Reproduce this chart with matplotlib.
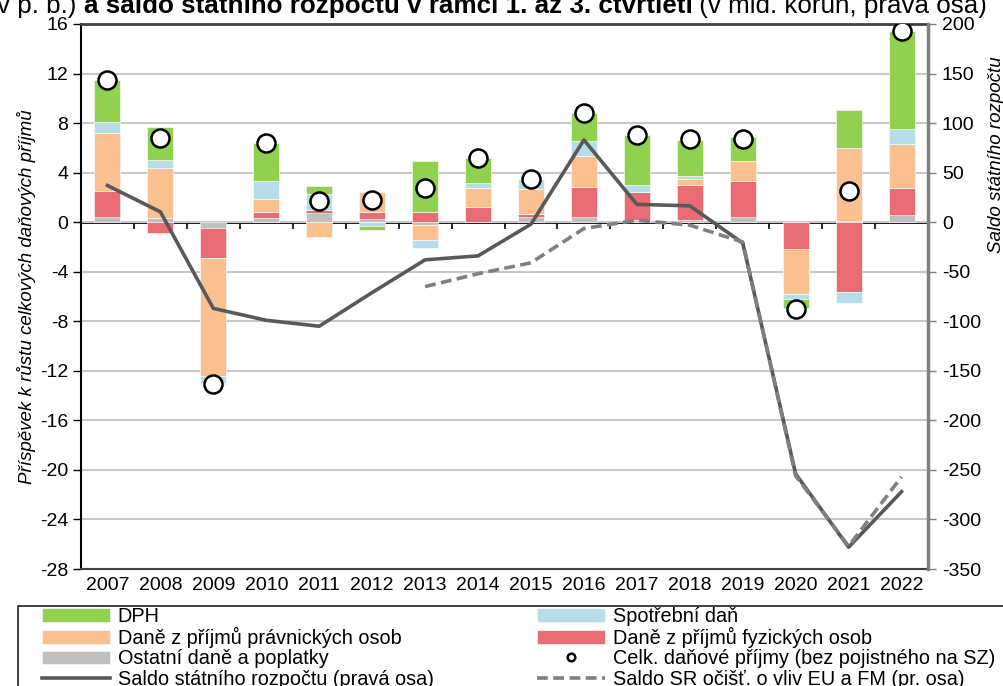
import matplotlib.pyplot as plt
from matplotlib.patches import Rectangle
import numpy as np

plt.rcParams['font.family'] = ['Liberation Sans', 'DejaVu Sans']
plt.rcParams['axes.unicode_minus'] = False

years = ['2007', '2008', '2009', '2010', '2011', '2012', '2013', '2014',
         '2015', '2016', '2017', '2018', '2019', '2020', '2021', '2022']

# prispevky k rustu danovych prijmu (p. b.)
ostatni = [0.4, 0.3, -0.5, 0.3, 0.75, 0.25, -0.2, 0.0, 0.4, 0.45, 0.2, 0.2, 0.45, 0.0, 0.1, 0.55]
dpfo = [2.1, -0.85, -2.4, 0.5, 0.25, 0.55, 0.8, 1.2, 0.25, 2.4, 2.25, 2.8, 2.85, -2.2, -5.6, 2.25]
dppo = [4.7, 4.1, -9.5, 1.1, -1.2, 1.6, -1.2, 1.55, 2.0, 2.5, 0.0, 0.45, 1.6, -3.6, 5.9, 3.5]
spotrebni = [0.9, 0.6, -0.6, 1.4, 1.25, -0.3, -0.7, 0.4, 0.85, 1.2, 0.55, 0.25, 0.0, -0.4, -0.9, 1.2]
dph = [3.4, 2.65, -0.1, 3.1, 0.65, -0.3, 4.1, 2.05, 0.0, 2.3, 4.0, 2.9, 1.95, -0.7, 3.05, 7.9]
celkem = [11.5, 6.8, -13.1, 6.4, 1.75, 1.8, 2.8, 5.2, 3.5, 8.85, 7.0, 6.7, 6.75, -7.0, 2.55, 15.4]

# saldo (mld. Kc, prava osa)
saldo = [37, 10.4, -87, -99, -105, -71, -38, -34, -2, 83, 18, 16.5, -21, -254, -328, -272]
saldo_ocist = [np.nan] * 6 + [-65, -52, -41, -6.4, 2, -3, -20, -256, -327, -257]

series = [
    (ostatni, '#BFBFBF', 'Ostatní daně a poplatky'),
    (dpfo, '#E96B74', 'Daně z příjmů fyzických osob'),
    (dppo, '#FAC090', 'Daně z příjmů právnických osob'),
    (spotrebni, '#B7DEE8', 'Spotřební daň'),
    (dph, '#92D050', 'DPH'),
]

fig = plt.figure(figsize=(10.04, 6.86), dpi=100)
ax = fig.add_axes([81 / 1004, 1 - 569 / 686, 847 / 1004, 545 / 686])
ax2 = ax.twinx()

x = np.arange(len(years))
pos_base = np.zeros(len(years))
neg_base = np.zeros(len(years))
handles = {}
for vals, color, label in series:
    v = np.array(vals)
    base = np.where(v >= 0, pos_base, neg_base)
    bars = ax.bar(x, v, 0.49, bottom=base, color=color, edgecolor='white',
                  linewidth=0.4, label=label, zorder=2)
    handles[label] = bars
    pos_base += np.clip(v, 0, None)
    neg_base += np.clip(v, None, 0)

ax.set_xlim(-0.5, len(years) - 0.5)
ax.set_ylim(-28, 16)
ax.set_yticks(range(-28, 17, 4))
ax.set_xticks(x, years)
ax.tick_params(axis='x', length=0, pad=6, labelsize=14)
ax.tick_params(axis='y', length=6, width=1, labelsize=14, pad=3)
ax.yaxis.grid(True, color='#C8C8C8', linewidth=1.5)
ax.set_axisbelow(True)
ax.spines['left'].set_linewidth(1.5)
ax.spines['top'].set_color('#404040')
ax.spines['top'].set_linewidth(2)
ax.spines['bottom'].set_color('#404040')
ax.spines['bottom'].set_linewidth(1.5)
ax.spines['right'].set_visible(False)
ax.set_ylabel('Příspěvek k růstu celkových daňových příjmů', style='italic',
              fontsize=13.5, labelpad=3)

# osa kategorii v nule
zero = ax.secondary_xaxis(0, transform=ax.transData)
zero.set_xticks(np.arange(-0.5, len(years), 1))
zero.tick_params(direction='out', length=5, width=1.2, labelbottom=False)
zero.spines['bottom'].set_linewidth(2)

ax2.set_ylim(-350, 200)
ax2.set_yticks(range(-350, 201, 50))
ax2.tick_params(axis='y', length=6, width=1, color='#808080', labelsize=14, pad=4)
for s in ['left', 'top', 'bottom']:
    ax2.spines[s].set_visible(False)
ax2.spines['right'].set_color('#808080')
ax2.spines['right'].set_linewidth(2.5)
ax2.set_ylabel('Saldo státního rozpočtu', style='italic', fontsize=13.5)
ax2.yaxis.set_label_coords(1.071, 0.76)

l1, = ax2.plot(x, saldo, color='#595959', linewidth=2.6,
               label='Saldo státního rozpočtu (pravá osa)')
l2, = ax2.plot(x, saldo_ocist, color='#808080', linewidth=2.6, dashes=(3, 1.5),
               label='Saldo SR očišť. o vliv EU a FM (pr. osa)')
c, = ax2.plot(x, celkem, 'o', transform=ax.transData, markersize=13,
              markerfacecolor='white', markeredgecolor='black', markeredgewidth=1.8,
              label='Celk. daňové příjmy (bez pojistného na SZ)')

# legenda s ramem (ram orezany vpravo a dole jako v originale)
fig.patches.append(Rectangle((18 / 1004, -0.05), 1.0, 1 - 606 / 686 + 0.05,
                             transform=fig.transFigure, fill=False,
                             edgecolor='#202020', linewidth=1.2))
order = [handles['DPH'], handles['Daně z příjmů právnických osob'],
         handles['Ostatní daně a poplatky'], l1,
         handles['Spotřební daň'], handles['Daně z příjmů fyzických osob'], c, l2]
fig.legend(order, [h.get_label() for h in order], loc='upper left',
           bbox_to_anchor=(42 / 1004, 1 - 607 / 686), ncol=2, fontsize=14.3,
           frameon=False, handlelength=3.4, handletextpad=0.42, borderpad=0,
           labelspacing=0.06, columnspacing=5.2, borderaxespad=0, markerscale=0.42)

# titulek (oriznuty nahore)
t1 = fig.text(-3 / 1004, 1 - 13 / 686, 'v p. b.) ', fontsize=18.7, va='baseline')
t2 = ax.annotate('a saldo státního rozpočtu v rámci 1. až 3. čtvrtletí', xy=(1, 0),
                 xycoords=t1, va='bottom', fontsize=18.7, fontweight='bold',
                 annotation_clip=False)
ax.annotate(' (v mld. korun, pravá osa)', xy=(1, 0), xycoords=t2, va='bottom',
            fontsize=18.7, annotation_clip=False)

fig.savefig('out.png', dpi=100)
